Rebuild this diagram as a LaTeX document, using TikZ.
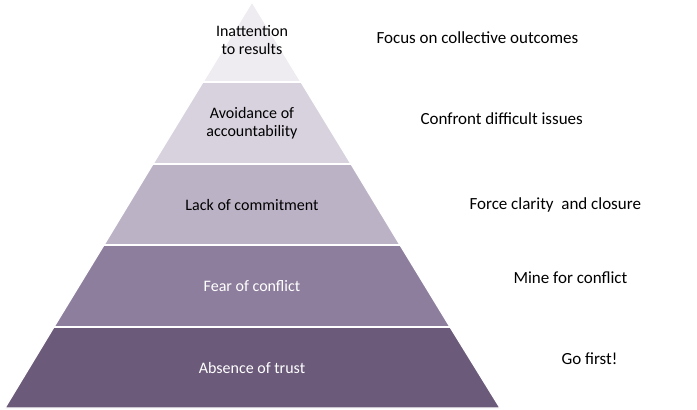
\documentclass[tikz,border=0pt]{standalone}
\usepackage{fontspec}
\setmainfont{Carlito}
\usepackage{xcolor}
\definecolor{layerA}{HTML}{EEEBF1}
\definecolor{layerB}{HTML}{D8D2DE}
\definecolor{layerC}{HTML}{BCB2C6}
\definecolor{layerD}{HTML}{8E7E9E}
\definecolor{layerE}{HTML}{6B5A7A}
\tikzstyle{layer} = [draw=white, line width=1.2pt]
\tikzstyle{intext} = [font=\fontsize{16}{18}\selectfont, align=center]
\tikzstyle{advice} = [font=\fontsize{17}{19}\selectfont, anchor=west]

\begin{document}
\begin{tikzpicture}[x=1pt, y=-1pt]
\useasboundingbox (0,0) rectangle (697,410);
% layers of the pyramid, top to bottom
\fill[layer, fill=layerA] (252,2) -- (301,82) -- (203,82) -- cycle;
\fill[layer, fill=layerB] (203,82) -- (301,82) -- (351,164) -- (153,164) -- cycle;
\fill[layer, fill=layerC] (153,164) -- (351,164) -- (400,245) -- (104,245) -- cycle;
\fill[layer, fill=layerD] (104,245) -- (400,245) -- (450,327) -- (54,327) -- cycle;
\fill[layer, fill=layerE] (54,327) -- (450,327) -- (500,408) -- (5,408) -- cycle;
\draw[white, line width=1.2pt] (203,82) -- (301,82) (153,164) -- (351,164)
  (104,245) -- (400,245) (54,327) -- (450,327);
% labels inside
\node[intext] (results) at (252,40) {Inattention\\to results};
\node[intext] (account) at (252,123) {Avoidance of\\accountability};
\node[intext] (commit) at (252,205) {Lack of commitment};
\node[intext, text=white] (conflict) at (252,286) {Fear of conflict};
\node[intext, text=white] (trust) at (252,368) {Absence of trust};
% advice on the right
\node[advice] (outcomes) at (373,38) {Focus on collective outcomes};
\node[advice] (issues) at (417,119) {Confront difficult issues};
\node[advice] (closure) at (466,205) {Force clarity\ \ and closure};
\node[advice] (mine) at (510,278) {Mine for conflict};
\node[advice] (first) at (558,359) {Go first!};
\end{tikzpicture}
\end{document}
